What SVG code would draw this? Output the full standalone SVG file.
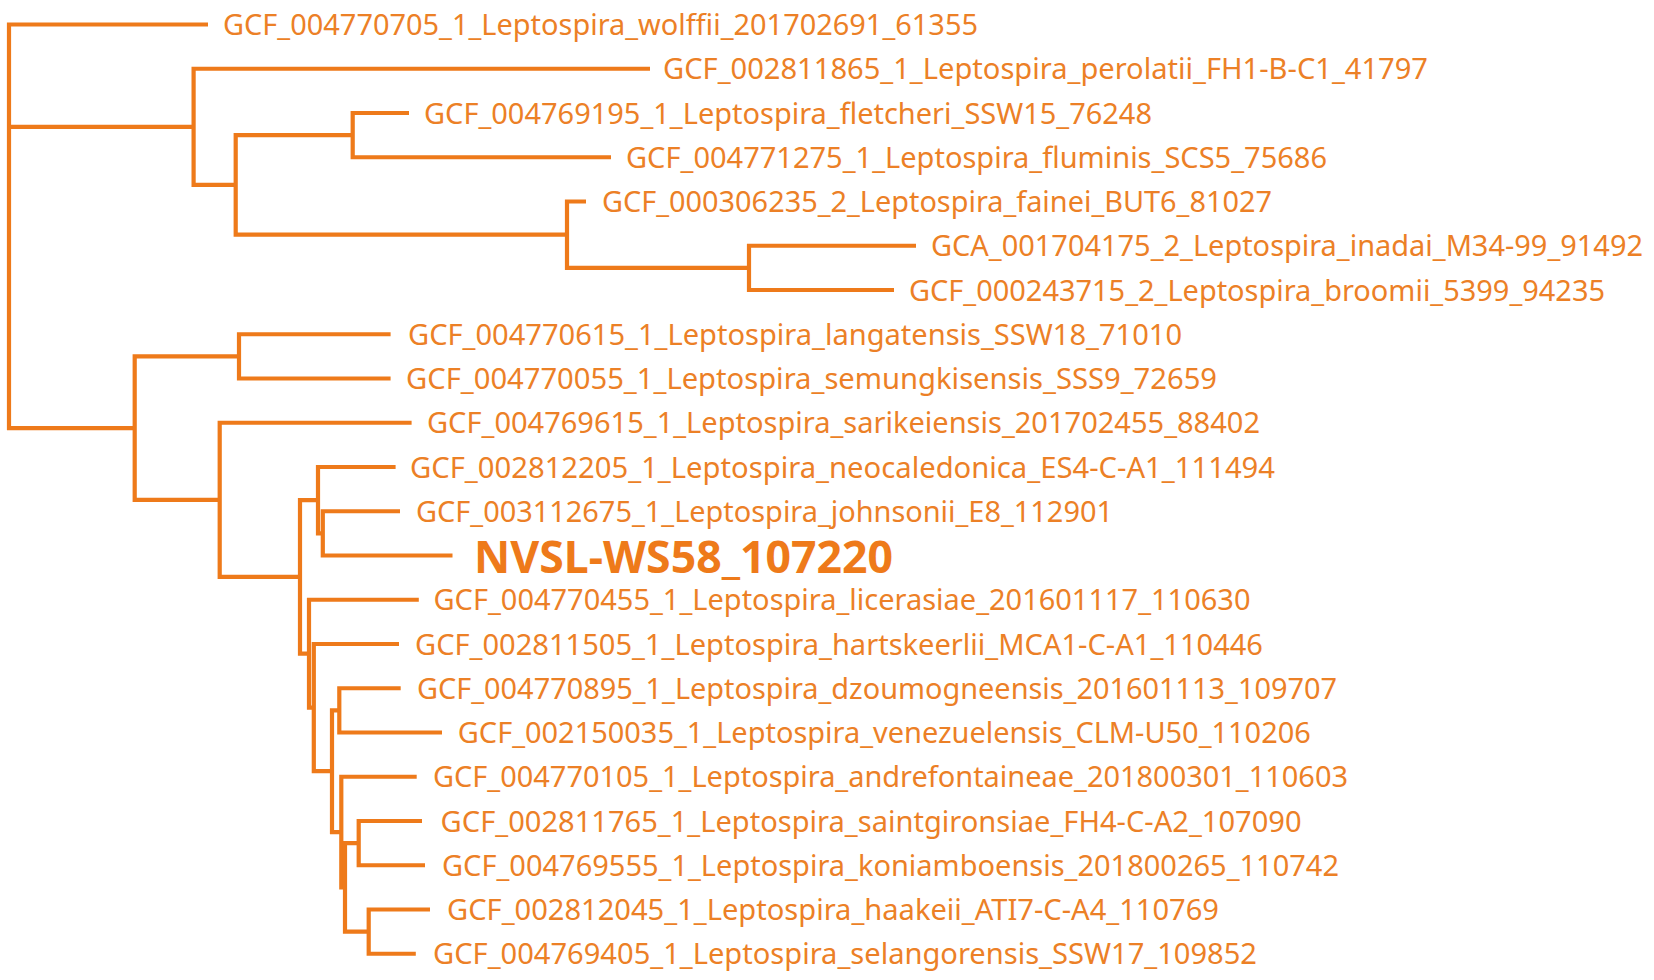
<svg xmlns="http://www.w3.org/2000/svg" width="1654" height="980" viewBox="0 0 1654 980">
<style>
.e{fill:none;stroke:#EE7A1A;stroke-width:4.2;stroke-linejoin:miter;stroke-linecap:butt}
.t{font-family:"Noto Sans","Open Sans","DejaVu Sans",sans-serif;font-size:29px;fill:#EC8026}
.b{font-family:"Noto Sans","Open Sans","DejaVu Sans",sans-serif;font-size:44px;font-weight:bold;fill:#EE7A1A}
</style>
<rect width="1654" height="980" fill="#FFFFFF"/>
<g id="connectors">
<path class="e" d="M208 24.5H9V428.1H134.7"/>
<path class="e" d="M9 126.8H193.6"/>
<path class="e" d="M650 68.75H193.6V184.9H235.7"/>
<path class="e" d="M352.7 135.1H235.7V234.7H567"/>
<path class="e" d="M409 113H352.7V157.25H611"/>
<path class="e" d="M586 201.5H567V267.9H749"/>
<path class="e" d="M916 245.75H749V290H894"/>
<path class="e" d="M239 356.4H134.7V499.8H219.7"/>
<path class="e" d="M390.6 334.25H239V378.5H390.6"/>
<path class="e" d="M411.6 422.75H219.7V576.9H300"/>
<path class="e" d="M318 500.2H300V653.7H309"/>
<path class="e" d="M395.6 467H318V533.4H322.8"/>
<path class="e" d="M400 511.25H322.8V555.5H452.5"/>
<path class="e" d="M418.8 599.75H309V707.6H313.8"/>
<path class="e" d="M399 644H313.8V771.2H332"/>
<path class="e" d="M339.3 710.4H332V832.1H341.3"/>
<path class="e" d="M400.7 688.25H339.3V732.5H442"/>
<path class="e" d="M416.7 776.75H341.3V887.4H345"/>
<path class="e" d="M358.7 843.1H345V931.6H368.7"/>
<path class="e" d="M422 821H358.7V865.25H425"/>
<path class="e" d="M430 909.5H368.7V953.75H415.8"/>
</g>
<g id="leaf-wolffii"><text class="t" x="223" y="35" textLength="755" lengthAdjust="spacingAndGlyphs">GCF_004770705_1_Leptospira_wolffii_201702691_61355</text></g>
<g id="leaf-perolatii"><text class="t" x="663" y="79.25" textLength="765" lengthAdjust="spacingAndGlyphs">GCF_002811865_1_Leptospira_perolatii_FH1-B-C1_41797</text></g>
<g id="leaf-fletcheri"><text class="t" x="424" y="123.5" textLength="728" lengthAdjust="spacingAndGlyphs">GCF_004769195_1_Leptospira_fletcheri_SSW15_76248</text></g>
<g id="leaf-fluminis"><text class="t" x="626" y="167.75" textLength="701" lengthAdjust="spacingAndGlyphs">GCF_004771275_1_Leptospira_fluminis_SCS5_75686</text></g>
<g id="leaf-fainei"><text class="t" x="602" y="212" textLength="670" lengthAdjust="spacingAndGlyphs">GCF_000306235_2_Leptospira_fainei_BUT6_81027</text></g>
<g id="leaf-inadai"><text class="t" x="931" y="256.25" textLength="712" lengthAdjust="spacingAndGlyphs">GCA_001704175_2_Leptospira_inadai_M34-99_91492</text></g>
<g id="leaf-broomii"><text class="t" x="909" y="300.5" textLength="696" lengthAdjust="spacingAndGlyphs">GCF_000243715_2_Leptospira_broomii_5399_94235</text></g>
<g id="leaf-langatensis"><text class="t" x="408" y="344.75" textLength="774" lengthAdjust="spacingAndGlyphs">GCF_004770615_1_Leptospira_langatensis_SSW18_71010</text></g>
<g id="leaf-semungkisensis"><text class="t" x="406" y="389" textLength="811" lengthAdjust="spacingAndGlyphs">GCF_004770055_1_Leptospira_semungkisensis_SSS9_72659</text></g>
<g id="leaf-sarikeiensis"><text class="t" x="427" y="433.25" textLength="833" lengthAdjust="spacingAndGlyphs">GCF_004769615_1_Leptospira_sarikeiensis_201702455_88402</text></g>
<g id="leaf-neocaledonica"><text class="t" x="410" y="477.5" textLength="865" lengthAdjust="spacingAndGlyphs">GCF_002812205_1_Leptospira_neocaledonica_ES4-C-A1_111494</text></g>
<g id="leaf-johnsonii"><text class="t" x="416" y="521.75" textLength="697" lengthAdjust="spacingAndGlyphs">GCF_003112675_1_Leptospira_johnsonii_E8_112901</text></g>
<g id="leaf-nvsl"><text class="b" x="474" y="573.3" textLength="419" lengthAdjust="spacingAndGlyphs">NVSL-WS58_107220</text></g>
<g id="leaf-licerasiae"><text class="t" x="433.5" y="610.25" textLength="817" lengthAdjust="spacingAndGlyphs">GCF_004770455_1_Leptospira_licerasiae_201601117_110630</text></g>
<g id="leaf-hartskeerlii"><text class="t" x="415" y="654.5" textLength="848" lengthAdjust="spacingAndGlyphs">GCF_002811505_1_Leptospira_hartskeerlii_MCA1-C-A1_110446</text></g>
<g id="leaf-dzoumogneensis"><text class="t" x="417" y="698.75" textLength="920" lengthAdjust="spacingAndGlyphs">GCF_004770895_1_Leptospira_dzoumogneensis_201601113_109707</text></g>
<g id="leaf-venezuelensis"><text class="t" x="457.8" y="743" textLength="853" lengthAdjust="spacingAndGlyphs">GCF_002150035_1_Leptospira_venezuelensis_CLM-U50_110206</text></g>
<g id="leaf-andrefontaineae"><text class="t" x="433" y="787.25" textLength="915" lengthAdjust="spacingAndGlyphs">GCF_004770105_1_Leptospira_andrefontaineae_201800301_110603</text></g>
<g id="leaf-saintgironsiae"><text class="t" x="440.6" y="831.5" textLength="861" lengthAdjust="spacingAndGlyphs">GCF_002811765_1_Leptospira_saintgironsiae_FH4-C-A2_107090</text></g>
<g id="leaf-koniamboensis"><text class="t" x="442" y="875.75" textLength="897" lengthAdjust="spacingAndGlyphs">GCF_004769555_1_Leptospira_koniamboensis_201800265_110742</text></g>
<g id="leaf-haakeii"><text class="t" x="447" y="920" textLength="772" lengthAdjust="spacingAndGlyphs">GCF_002812045_1_Leptospira_haakeii_ATI7-C-A4_110769</text></g>
<g id="leaf-selangorensis"><text class="t" x="433" y="964.25" textLength="824" lengthAdjust="spacingAndGlyphs">GCF_004769405_1_Leptospira_selangorensis_SSW17_109852</text></g>
</svg>
